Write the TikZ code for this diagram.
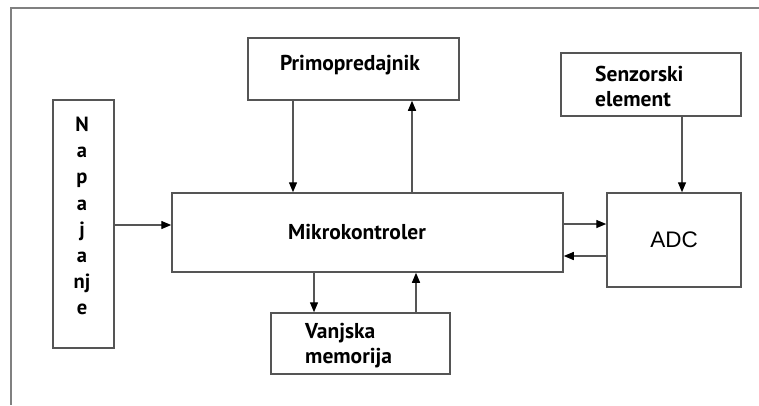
\documentclass[tikz,border=0pt]{standalone}
\usepackage{fontspec}
\setmainfont{PT Sans}
\newfontfamily\adcfont{Liberation Sans}
\usetikzlibrary{arrows.meta}
\definecolor{boxgray}{HTML}{555555}
\tikzset{
  blk/.style={draw=boxgray, line width=1.5pt, rectangle, inner sep=0pt},
  lbl/.style={inner sep=0pt, font=\bfseries\fontsize{21.5}{25}\selectfont, text=black},
  arr/.style={draw=boxgray, line width=1.4pt, -{Triangle[length=10pt,width=8pt,fill=black,color=black]}},
  frame/.style={draw=gray, line width=1.8pt}
}
\begin{document}
\begin{tikzpicture}[x=1pt,y=-1pt]
\useasboundingbox (0,0) rectangle (759,405);
% outer frame
\coordinate (fr) at (11,8);
\coordinate (frR) at (759,8);
\coordinate (frB) at (11,405);
\draw[frame] (frR) -- (fr) -- (frB);
% boxes
\node[blk, minimum width=61pt, minimum height=248pt] (nap) at (83.5,224) {};
\node[blk, minimum width=391pt, minimum height=79pt] (mk) at (367.5,232.5) {};
\node[blk, minimum width=211pt, minimum height=62pt] (prim) at (353.5,69) {};
\node[blk, minimum width=180pt, minimum height=63pt] (sen) at (651,84.5) {};
\node[blk, minimum width=134pt, minimum height=94pt] (adc) at (674,240) {};
\node[blk, minimum width=179pt, minimum height=61pt] (van) at (360.5,343.5) {};
% labels
\node[lbl, align=center, font=\bfseries\fontsize{20.5}{26.1}\selectfont] (napt) at (82,216) {N\\a\\p\\a\\j\\a\\nj\\e};
\node[lbl] (mkt) at (357,232) {Mikrokontroler};
\node[lbl] (primt) at (350,65) {Primopredajnik};
\node[lbl, align=left, anchor=west] (sent) at (595,86) {Senzorski\\element};
\node[lbl, align=left, anchor=west] (vant) at (305,346) {Vanjska\\memorija};
\node[inner sep=0pt, font=\adcfont\fontsize{22.5}{24}\selectfont] (adct) at (674,240) {ADC};
% connectors
\draw[arr] ([xshift=-60.5pt]prim.south) -- ([xshift=-60.5pt]prim.south |- mk.north);
\draw[arr] ([xshift=44.5pt]mk.north) -- ([xshift=44.5pt]mk.north |- prim.south);
\draw[arr] ([yshift=-1pt]nap.east) -- ([yshift=-1pt]nap.east -| mk.west);
\draw[arr] ([xshift=-53.5pt]mk.south) -- ([xshift=-53.5pt]mk.south |- van.north);
\draw[arr] ([xshift=48.5pt]mk.south |- van.north) -- ([xshift=48.5pt]mk.south);
\draw[arr] ([yshift=8.5pt]mk.east) -- ([yshift=8.5pt]mk.east -| adc.west);
\draw[arr] ([yshift=-23.5pt]mk.east -| adc.west) -- ([yshift=-23.5pt]mk.east);
\draw[arr] ([xshift=31pt]sen.south) -- ([xshift=31pt]sen.south |- adc.north);
\end{tikzpicture}
\end{document}
